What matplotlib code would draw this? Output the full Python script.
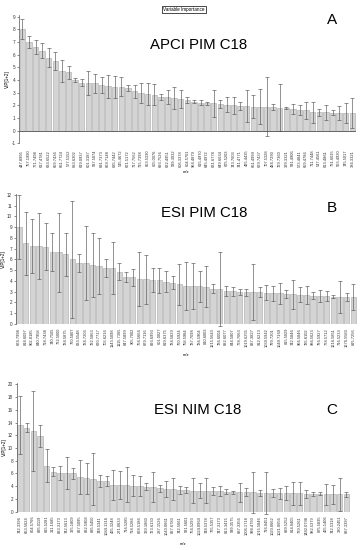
import matplotlib
matplotlib.use("Agg")
import matplotlib.pyplot as plt
import numpy as np

plt.rcParams['font.family'] = ['Liberation Sans', 'DejaVu Sans']

# ---------------- data ----------------
labels_a = ["447.8995","757.1990","771.7498","617.4781","633.6522","659.7436","661.7724","577.5152","683.6302","619.0937",
            "601.3187","587.5074","691.7373","669.7148","685.7442","545.4672","671.5172","717.7562","715.7398","653.5330",
            "605.0076","693.7526","632.4951","589.3032","606.3378","604.5701","964.4879","615.4970","645.4972","631.6778",
            "649.6634","675.5203","743.7603","741.4771","495.4435","661.4999","679.7437","707.5328","484.7290","729.7360",
            "399.3321","591.4906","573.4841","659.4786","711.7448","547.4561","613.4861","731.6015","563.4930","745.5017",
            "386.3321"]
vip_a = [8.0,7.0,6.6,6.3,5.75,5.5,4.7,4.6,4.0,3.8,
         3.75,3.75,3.6,3.5,3.45,3.45,3.35,3.1,2.95,2.9,
         2.85,2.65,2.65,2.6,2.5,2.4,2.3,2.2,2.15,2.15,
         2.1,2.05,2.0,1.95,1.95,1.9,1.9,1.9,1.85,1.8,
         1.8,1.7,1.65,1.6,1.45,1.45,1.45,1.4,1.4,1.4,1.4]
err_a = [0.8,0.5,0.55,0.6,0.75,0.7,0.85,0.5,0.15,0.25,
         0.95,0.75,0.65,0.9,0.85,0.75,0.25,0.5,0.8,0.85,
         0.8,0.25,0.55,0.85,0.7,0.25,0.15,0.2,0.1,1.05,
         0.3,0.6,0.65,0.3,1.25,0.9,1.35,2.3,0.25,1.85,
         0.1,0.4,0.4,0.7,0.85,0.3,0.6,0.2,0.55,0.8,1.15]

labels_b = ["874.7998","818.6097","902.8185","840.7958","718.7438","740.7505","732.5000","784.5875","760.5807","633.5548",
            "784.7203","782.5863","670.7717","703.6216","1143.5098","1115.7365","847.5899","905.7002","764.5664","879.7116",
            "893.6993","601.0027","819.6375","784.5829","760.5924","758.5984","787.7098","786.5904","810.6003","1215.5643",
            "786.6004","882.6077","844.5807","778.7063","1019.6255","837.3827","912.6213","1039.5942","799.7201","1049.7169",
            "815.5029","742.5846","966.5846","785.8102","986.5623","796.5927","778.5712","1216.5851","716.5233","1276.5583",
            "695.7256"]
vip_b = [9.0,7.5,7.25,7.25,7.2,6.7,6.65,6.5,6.0,5.65,
         5.65,5.5,5.4,5.2,5.2,4.85,4.4,4.35,4.15,4.15,
         4.1,4.05,3.95,3.85,3.7,3.55,3.55,3.5,3.45,3.3,
         3.25,3.1,3.05,3.0,2.95,2.95,2.95,2.9,2.85,2.85,
         2.8,2.75,2.7,2.7,2.65,2.6,2.6,2.55,2.5,2.5,2.5]
err_b = [3.0,2.95,2.5,3.1,2.2,1.75,3.7,2.0,5.4,0.85,
         3.45,3.0,2.6,0.8,2.45,0.8,0.45,0.8,2.5,2.25,
         1.1,1.15,1.0,0.6,1.9,2.25,2.15,1.45,1.9,0.4,
         3.4,0.45,0.4,0.3,0.35,2.6,0.45,0.7,0.7,1.0,
         0.35,1.35,0.7,0.85,0.35,0.6,0.5,0.15,1.5,0.35,1.2]

labels_c = ["742.3396","863.5624","804.5766","835.0119","815.5281","311.1685","833.3173","742.5613","325.1809","827.5095",
            "832.5908","885.5450","748.5341","1084.1316","465.3248","271.0633","716.5285","718.5286","878.5186","339.1860",
            "723.6130","287.1526","1043.0661","827.6783","742.5661","581.5601","764.5293","1024.0969","748.5378","765.5357",
            "747.3173","813.3415","599.3575","887.3356","1006.1718","998.4793","1015.5846","716.0451","1020.0662","1021.0656",
            "699.5252","814.0405","739.5261","1482.0798","982.5379","875.5835","465.1406","742.5318","330.2451","887.3397"]
vip_c = [13.6,13.2,12.7,11.9,7.2,6.3,6.1,6.1,6.0,5.4,
         5.25,5.1,4.85,4.8,4.2,4.2,4.2,4.1,4.0,3.95,
         3.9,3.65,3.6,3.55,3.4,3.4,3.3,3.3,3.3,3.25,
         3.2,3.15,3.05,3.05,3.05,3.05,2.95,2.95,2.9,2.9,
         2.9,2.9,2.9,2.8,2.8,2.8,2.7,2.7,2.7,2.7]
err_c = [4.6,0.7,6.25,1.7,2.6,0.75,1.1,2.55,0.8,2.7,
         2.45,4.05,0.9,0.8,2.35,2.2,2.75,1.65,1.6,0.5,
         2.35,0.6,1.25,1.7,0.6,0.5,1.95,1.15,1.95,0.65,
         0.8,0.35,0.25,1.5,0.6,3.25,0.45,3.35,0.6,0.85,
         1.1,1.8,1.8,0.6,0.35,0.25,1.65,1.5,2.55,0.35]

titles = ["APCI PIM C18", "ESI PIM C18", "ESI NIM C18"]
letters = ["A", "B", "C"]
ylabel = "VIP[1+2]"
xlabel = "m/z"

# ---------------- figure ----------------
W, H = 363, 550
fig = plt.figure(figsize=(W/100, H/100), dpi=100)

def px_axes(left, top, right, bottom):
    return fig.add_axes([left/W, 1-bottom/H, (right-left)/W, (bottom-top)/H])

bar_fc = "#d4d4d4"
bar_ec = "#a8a8a8"
err_c_col = "#555555"
spine_col = "#555555"

def panel(ax, labels, vals, errs, ylim, yticks, pad):
    x = np.arange(len(vals))
    ax.bar(x, vals, width=0.82, color=bar_fc, edgecolor=bar_ec, linewidth=0.4, zorder=2)
    ax.errorbar(x, vals, yerr=errs, fmt='none', ecolor=err_c_col, elinewidth=0.45,
                capsize=1.1, capthick=0.45, zorder=3, clip_on=False)
    ax.set_ylim(*ylim)
    ax.set_xlim(-0.5, len(vals) - 0.45)
    ax.set_yticks(yticks)
    ax.set_yticklabels([str(t) for t in yticks], fontsize=3.3)
    ax.set_xticks(x)
    ax.set_xticklabels(labels, rotation=90, fontsize=2.9)
    for s in ['top', 'right', 'bottom']:
        ax.spines[s].set_visible(False)
    ax.spines['left'].set_color(spine_col)
    ax.spines['left'].set_linewidth(0.5)
    ax.axhline(0, color=spine_col, linewidth=0.6, zorder=4)
    ax.tick_params(axis='y', length=1.5, width=0.4, pad=1, colors='#333333')
    ax.tick_params(axis='x', length=0, pad=pad, colors='#333333')
    ax.set_ylabel(ylabel, fontsize=3.3, labelpad=1)
    ax.set_facecolor('none')

# Panel A
axA = px_axes(19, 15.3, 356, 143.4)
panel(axA, labels_a, vip_a, err_a, (-1, 9.1), list(range(-1, 10)), 4.6)
# Panel B
axB = px_axes(15.6, 193.9, 357, 324)
panel(axB, labels_b, vip_b, err_b, (0, 12.1), list(range(0, 13)), 2.8)
# Panel C
axC = px_axes(16.6, 383, 350, 511.7)
panel(axC, labels_c, vip_c, err_c, (0, 20.2), list(range(0, 21, 2)), 3.0)

# texts
fig.text(184/W, 1-9.5/H, "Variable Importance", fontsize=3.3, ha='center', va='center',
         bbox=dict(boxstyle='square,pad=0.25', fc='white', ec='black', lw=0.5))
title_pos = [(199, 45), (204, 213), (198, 410)]
letter_pos = [(332.5, 20), (332, 208), (331.5, 410)]
for t, (tx, ty) in zip(titles, title_pos):
    fig.text(tx/W, 1-ty/H, t, fontsize=10.8, ha='center', va='center')
for l, (lx, ly) in zip(letters, letter_pos):
    fig.text(lx/W, 1-ly/H, l, fontsize=11, ha='center', va='center')
xl_pos = [(186, 172), (186, 355), (183, 544)]
for (mx, my) in xl_pos:
    fig.text(mx/W, 1-my/H, xlabel, fontsize=3.0, ha='center', va='center')

fig.savefig("out.png", dpi=100, facecolor='white')
